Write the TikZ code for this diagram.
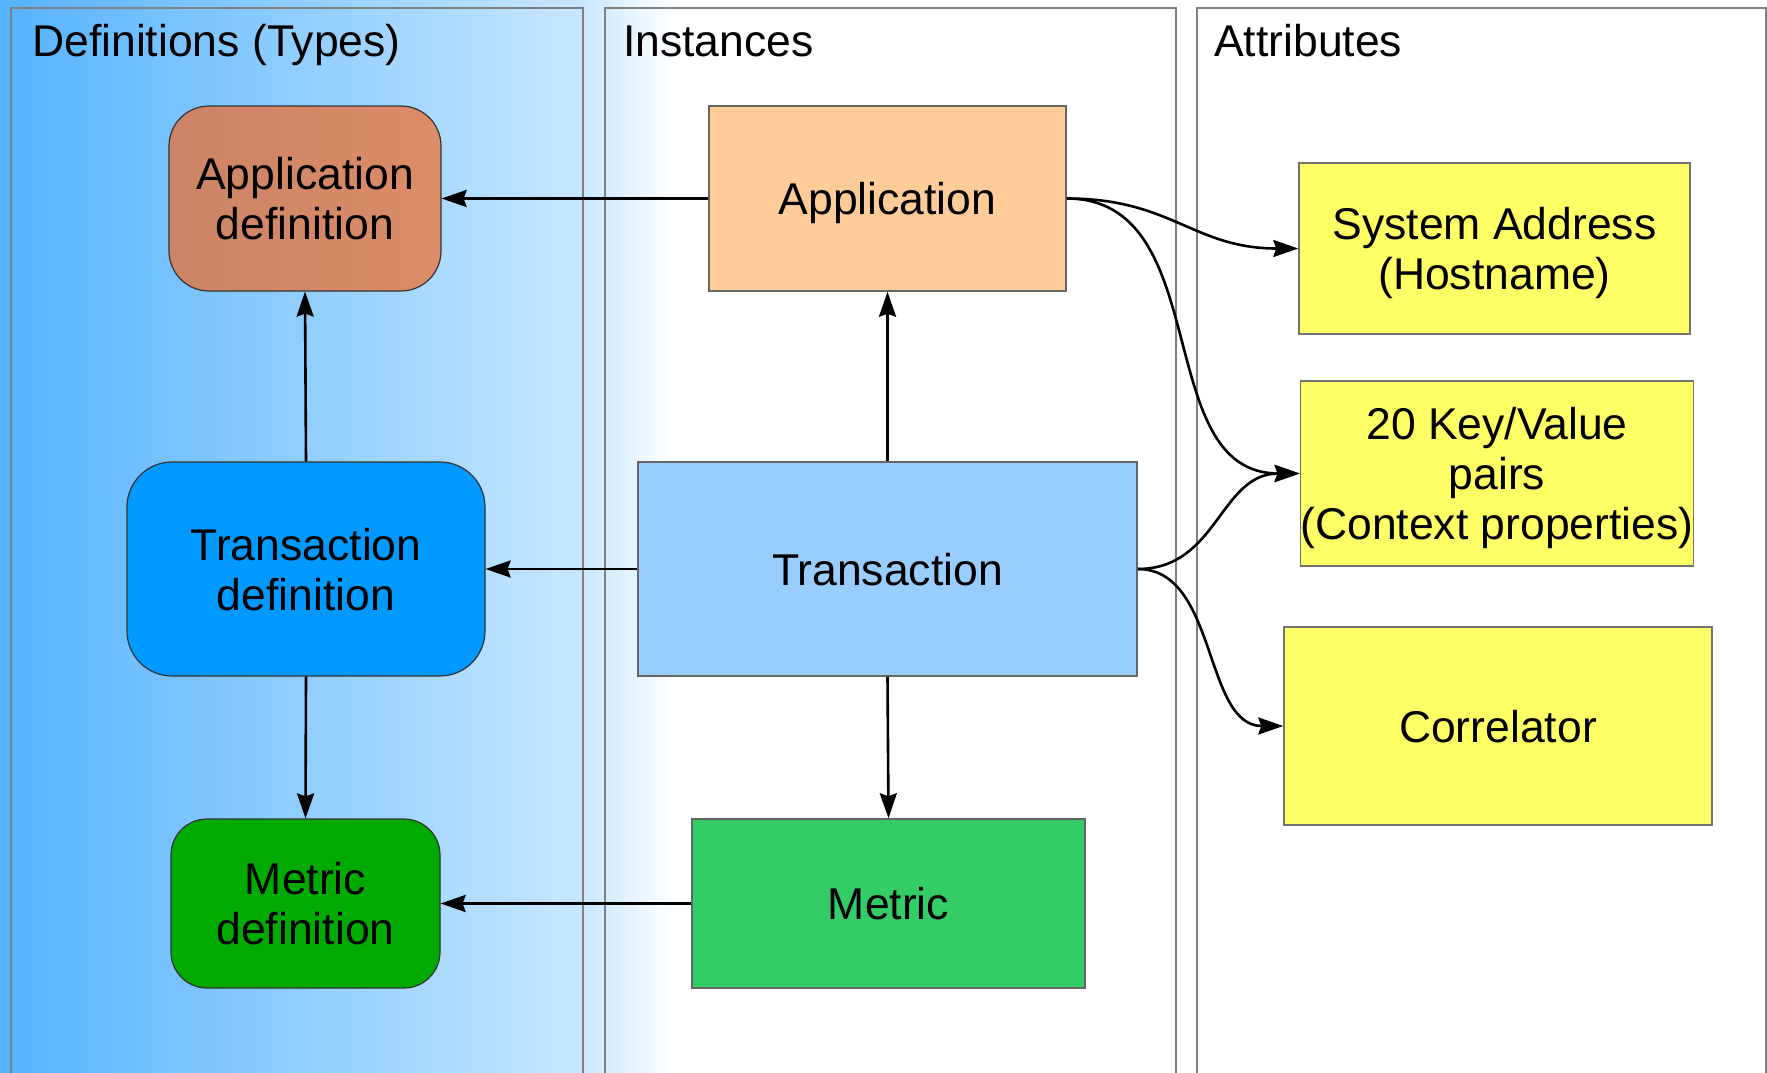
\documentclass[tikz,border=0pt]{standalone}
\usepackage{fontspec}
\setmainfont{Liberation Sans}
\usetikzlibrary{arrows.meta}

\definecolor{bgdeep}{HTML}{55B3FF}
\definecolor{bglight}{HTML}{C8E7FF}
\definecolor{panelline}{HTML}{808080}
\definecolor{appdefL}{HTML}{CB8466}
\definecolor{appdefR}{HTML}{DC8C68}
\definecolor{appfill}{HTML}{FFCC99}
\definecolor{txdeffill}{HTML}{0099FF}
\definecolor{txfill}{HTML}{99CCFF}
\definecolor{metdeffill}{HTML}{00AA00}
\definecolor{metfill}{HTML}{33CC66}
\definecolor{attrfill}{HTML}{FFFF66}

\tikzset{
  txt/.style={font=\fontsize{44.5}{50}\selectfont, align=center, inner sep=0pt,
              text depth=-6pt},
  defbox/.style={txt, draw=black!80, line width=1.2pt, rounded corners=#1},
  instbox/.style={txt, draw=black!60, line width=1.5pt},
  attrbox/.style={txt, draw=black!55, line width=1.5pt, fill=attrfill},
  panel/.style={draw=panelline, line width=2pt},
  header/.style={font=\fontsize{44.5}{50}\selectfont, inner sep=0pt, anchor=base west},
  arr/.style={draw=black, line width=2.6pt,
              -{Stealth[length=25pt,width=17pt,inset=3pt]}},
}

\begin{document}
\begin{tikzpicture}[x=1pt, y=-1pt]
  \useasboundingbox (0,0) rectangle (1767,1073);

  % background: blue fade behind the type column
  \fill[white] (0,0) rectangle (1767,1073);
  \shade[left color=bgdeep, right color=bglight] (0,0) rectangle (584,1073);
  \shade[left color=bglight, right color=white] (583,0) rectangle (672,1073);

  % column frames (open at the bottom)
  \draw[panel] (11,1080) -- (11,8) -- (583,8) -- (583,1080);
  \draw[panel] (605,1080) -- (605,8) -- (1176,8) -- (1176,1080);
  \draw[panel] (1197,1080) -- (1197,8) -- (1766,8) -- (1766,1080);

  \node[header] (hdef)  at (32,57)   {Definitions (Types)};
  \node[header] (hinst) at (623,57)  {Instances};
  \node[header] (hattr) at (1214,57) {Attributes};

  % definitions (types)
  \node[defbox=40pt, left color=appdefL, right color=appdefR,
        minimum width=272pt, minimum height=185pt] (appdef) at (305,198.5)
        {Application\\definition};
  \node[defbox=45pt, fill=txdeffill, minimum width=358pt, minimum height=214pt]
        (txdef) at (306,569) {Transaction\\definition};
  \node[defbox=36pt, fill=metdeffill, minimum width=269pt, minimum height=169pt]
        (metdef) at (305.5,903.5) {Metric\\definition};

  % instances
  \node[instbox, fill=appfill, minimum width=357pt, minimum height=185pt]
        (app) at (887.5,198.5) {Application};
  \node[instbox, fill=txfill, minimum width=499pt, minimum height=214pt]
        (tx) at (887.5,569) {Transaction};
  \node[instbox, fill=metfill, minimum width=393pt, minimum height=169pt]
        (met) at (888.5,903.5) {Metric};

  % attributes
  \node[attrbox, minimum width=391pt, minimum height=171pt]
        (sysaddr) at (1494.5,248.5) {System Address\\(Hostname)};
  \node[attrbox, minimum width=392pt, minimum height=185pt]
        (kv) at (1497,473.5) {20 Key/Value\\pairs\\(Context properties)};
  \node[attrbox, minimum width=428pt, minimum height=198pt]
        (corr) at (1498,726) {Correlator};

  % instance -> type
  \draw[arr] (app.west) -- (appdef.east);
  \draw[arr] (tx.west) -- (txdef.east);
  \draw[arr] (met.west) -- (metdef.east);

  % hierarchy
  \draw[arr] (txdef.north) -- (appdef.south);
  \draw[arr] (txdef.south) -- (metdef.north);
  \draw[arr] (tx.north) -- (app.south);
  \draw[arr] (tx.south) -- (met.north);

  % attribute links
  \draw[arr] (app.east) .. controls +(105,0) and +(-105,0) .. (sysaddr.west);
  \draw[arr] (app.east) .. controls +(150,0) and +(-150,0) .. (kv.west);
  \draw[arr] (tx.east) .. controls +(80,0) and +(-80,0) .. (kv.west);
  \draw[arr] (tx.east) .. controls +(80,0) and +(-80,0) .. (corr.west);
\end{tikzpicture}
\end{document}
